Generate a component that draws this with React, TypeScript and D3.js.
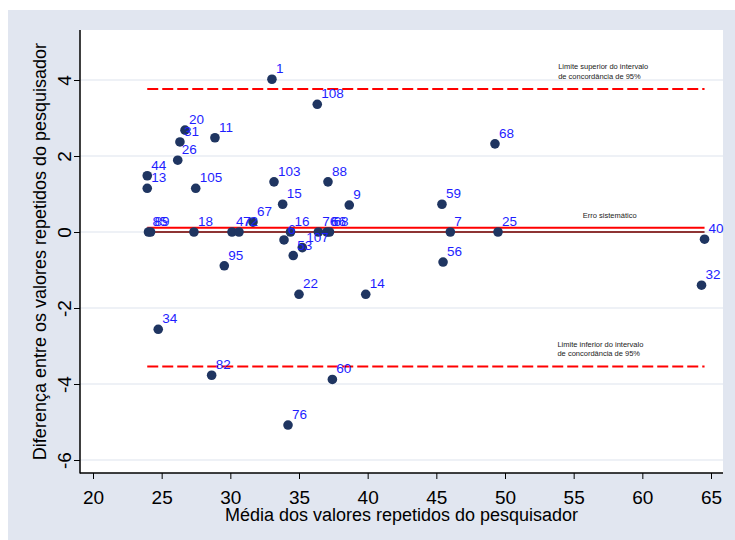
import React, { useEffect, useRef } from "react";
import * as d3 from "d3";

// id of each subject, mean of the two measures, difference between them
const pointIds = ["1", "108", "20", "31", "26", "11", "44", "13", "105", "103", "88", "9", "15", "67",
  "85", "89", "18", "47", "72", "6", "16", "107", "53", "76", "66", "68",
  "7", "25", "59", "68", "56", "40", "32", "95", "22", "14", "34", "82", "60", "76"];
const pointMeans = [33.03, 36.33, 26.70, 26.33, 26.17, 28.88, 23.95, 23.95, 27.48, 33.18, 37.11, 38.66, 33.81, 31.65,
  24.04, 24.19, 27.35, 30.12, 30.63, 33.91, 34.38, 35.24, 34.58, 36.41, 37.04, 37.22,
  46.02, 49.49, 45.41, 49.27, 45.49, 64.53, 64.31, 29.56, 35.0, 39.86, 24.75, 28.64, 37.43, 34.2];
const pointDiffs = [4.02, 3.36, 2.68, 2.37, 1.89, 2.48, 1.48, 1.15, 1.15, 1.32, 1.32, 0.71, 0.73, 0.26,
  0, 0, 0, 0, 0, -0.21, 0, -0.41, -0.62, 0, 0, 0,
  0, 0, 0.73, 2.32, -0.79, -0.19, -1.40, -0.89, -1.64, -1.64, -2.56, -3.77, -3.88, -5.08];

const xTicks = [20, 25, 30, 35, 40, 45, 50, 55, 60, 65];
const yTicks = [-6, -4, -2, 0, 2, 4];

const biasValue = 0.11;
const upperLimit = 3.76;
const lowerLimit = -3.54;

const upperNote = ["Limite superior do intervalo", "de concordância de 95%"];
const lowerNote = ["Limite inferior do intervalo", "de concordância de 95%"];
const biasNote = "Erro sistemático";

const xTitle = "Média dos valores repetidos do pesquisador";
const yTitle = "Diferença entre os valores repetidos do pesquisador";

export default function App() {
  const ref = useRef<SVGSVGElement>(null);

  useEffect(() => {
    const svg = d3.select(ref.current);
    svg.selectAll("*").remove();

    // plot region (page pixels)
    const left = 80, right = 723, top = 30, bottom = 473;
    const font = "'Liberation Sans', Arial, sans-serif";
    const fmt = (d: d3.NumberValue) => String(d); // plain hyphen minus, like the original

    const x = d3.scaleLinear().domain([20, 65]).range([93, 711]);
    const y = d3.scaleLinear().domain([-6, 4]).range([460, 80]);

    // graph background
    svg.append("rect")
      .attr("x", 8).attr("y", 10)
      .attr("width", 727).attr("height", 530)
      .attr("fill", "#e1e6f0");
    svg.append("rect")
      .attr("x", left).attr("y", top)
      .attr("width", right - left).attr("height", bottom - top)
      .attr("fill", "#ffffff");

    // grid
    svg.append("g")
      .selectAll("line")
      .data(yTicks)
      .enter()
      .append("line")
      .attr("x1", left).attr("x2", right)
      .attr("y1", d => y(d)).attr("y2", d => y(d))
      .attr("stroke", "#dde3ee")
      .attr("stroke-width", 1.2);

    // axes
    const yAxis = svg.append("g")
      .attr("transform", "translate(" + left + ",0)")
      .call(d3.axisLeft(y).tickValues(yTicks).tickSize(6).tickFormat(fmt));
    yAxis.select(".domain").remove();
    yAxis.selectAll(".tick line").attr("stroke", "#000");
    yAxis.selectAll(".tick text")
      .attr("x", null).attr("dy", null)
      .attr("transform", "translate(-9,0) rotate(-90)")
      .attr("text-anchor", "middle")
      .style("font-family", font)
      .style("font-size", "19px")
      .attr("fill", "#000");

    const xAxis = svg.append("g")
      .attr("transform", "translate(0," + bottom + ")")
      .call(d3.axisBottom(x).tickValues(xTicks).tickSize(6).tickFormat(fmt));
    xAxis.select(".domain").remove();
    xAxis.selectAll(".tick line").attr("stroke", "#000");
    xAxis.selectAll(".tick text")
      .attr("y", 31).attr("dy", null)
      .style("font-family", font)
      .style("font-size", "19px")
      .attr("fill", "#000");

    svg.append("line")
      .attr("x1", left).attr("x2", left)
      .attr("y1", top).attr("y2", bottom + 0.5)
      .attr("stroke", "#000").attr("stroke-width", 1.5);
    svg.append("line")
      .attr("x1", left).attr("x2", right)
      .attr("y1", bottom).attr("y2", bottom)
      .attr("stroke", "#000").attr("stroke-width", 1.5);

    // reference lines span the range of the means
    const xr = d3.extent(pointMeans) as [number, number];
    svg.append("line")
      .attr("x1", x(xr[0])).attr("x2", x(xr[1]))
      .attr("y1", y(0)).attr("y2", y(0))
      .attr("stroke", "#8e3434").attr("stroke-width", 2);
    svg.append("line")
      .attr("x1", x(xr[0])).attr("x2", x(xr[1]))
      .attr("y1", y(biasValue)).attr("y2", y(biasValue))
      .attr("stroke", "#ff0000").attr("stroke-width", 2);
    [upperLimit, lowerLimit].forEach(v => {
      svg.append("line")
        .attr("x1", x(xr[0])).attr("x2", x(xr[1]))
        .attr("y1", y(v)).attr("y2", y(v))
        .attr("stroke", "#ff0000").attr("stroke-width", 2)
        .style("stroke-dasharray", "11, 4");
    });

    // notes
    const note = (lines: string[], xv: number, yv: number) => {
      lines.forEach((t, i) => {
        svg.append("text")
          .attr("x", x(xv))
          .attr("y", y(yv) + i * 9.4)
          .style("font-family", font)
          .style("font-size", "7.5px")
          .attr("fill", "#222")
          .text(t);
      });
    };
    note(upperNote, 53.87, upperLimit + 0.52);
    note(lowerNote, 53.82, lowerLimit + 0.52);
    note([biasNote], 55.67, biasValue + 0.25);

    // points
    const pts = pointMeans.map((m, i) => ({ id: pointIds[i], m: m, d: pointDiffs[i] }));
    svg.append("g")
      .selectAll("circle")
      .data(pts)
      .enter()
      .append("circle")
      .attr("cx", d => x(d.m))
      .attr("cy", d => y(d.d))
      .attr("r", 4.8)
      .attr("fill", "#1f3561");
    svg.append("g")
      .selectAll("text")
      .data(pts)
      .enter()
      .append("text")
      .attr("x", d => x(d.m) + 4)
      .attr("y", d => y(d.d) - 6)
      .style("font-family", font)
      .style("font-size", "13.5px")
      .attr("fill", "#1e1eff")
      .text(d => d.id);

    // axis titles
    svg.append("text")
      .attr("x", (left + right) / 2)
      .attr("y", 521)
      .attr("text-anchor", "middle")
      .style("font-family", font)
      .style("font-size", "18px")
      .text(xTitle);
    svg.append("text")
      .attr("transform", "translate(46," + (top + bottom) / 2 + ") rotate(-90)")
      .attr("text-anchor", "middle")
      .style("font-family", font)
      .style("font-size", "18px")
      .text(yTitle);
  }, []);

  return (
    <svg ref={ref} width={735} height={540}
      style={{ position: "absolute", left: 0, top: 0, display: "block" }} />
  );
}
